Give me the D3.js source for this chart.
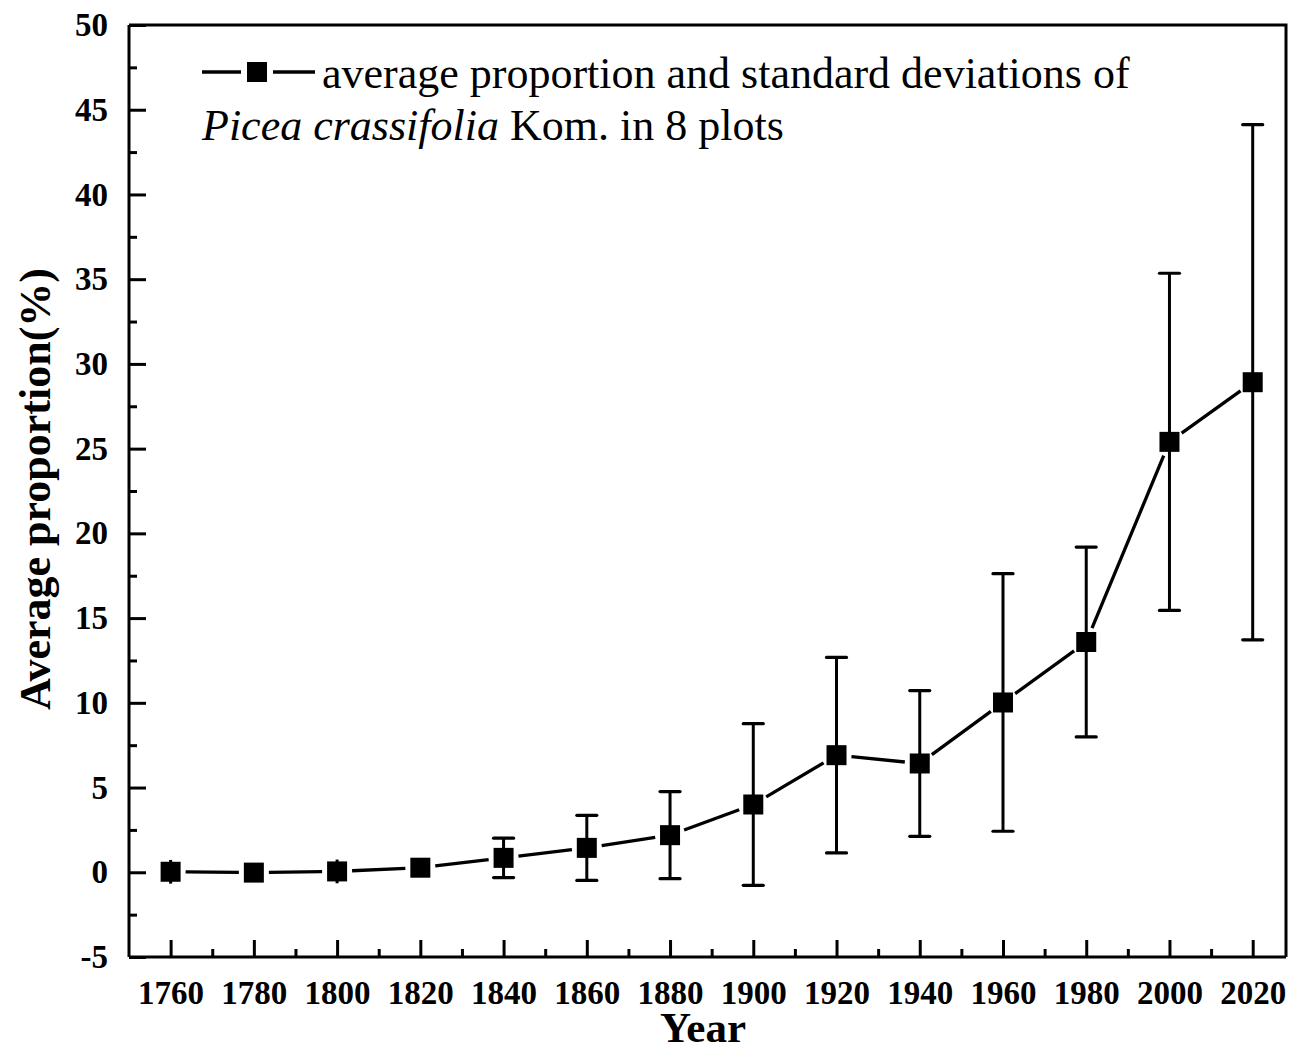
<!DOCTYPE html>
<html>
<head>
<meta charset="utf-8">
<script src="https://cdn.jsdelivr.net/npm/d3@7"></script>
<style>
  html, body { margin: 0; padding: 0; background: #fff; }
  svg { display: block; }
  text { font-family: "Liberation Serif", "Times New Roman", serif; fill: #000; }
</style>
</head>
<body>
<svg id="chart" width="1305" height="1051"></svg>
<script>
// ---- data ----
const years = [1760, 1780, 1800, 1820, 1840, 1860, 1880, 1900, 1920, 1940, 1960, 1980, 2000, 2020];
const means = [0.03, -0.02, 0.05, 0.27, 0.85, 1.44, 2.19, 4.0, 6.91, 6.42, 10.02, 13.59, 25.4, 28.92];
const sds   = [0.7, 0, 0.7, 0, 1.16, 1.92, 2.57, 4.77, 5.77, 4.3, 7.6, 5.6, 9.95, 15.2];
const yTicks = [-5, 0, 5, 10, 15, 20, 25, 30, 35, 40, 45, 50];
const xTicks = [1760, 1780, 1800, 1820, 1840, 1860, 1880, 1900, 1920, 1940, 1960, 1980, 2000, 2020];
const legendLine1 = "average proportion and standard deviations of";
const legendItalic = "Picea crassifolia";
const legendRest = " Kom. in 8 plots";
const xTitle = "Year";
const yTitle = "Average proportion(%)";

// ---- layout ----
const L = 129, R = 1286, T = 25, B = 957;
const FONT = "'Liberation Serif','Times New Roman',serif";
const svg = d3.select("#chart");
const x = d3.scaleLinear().domain([1750, 2028]).range([L, R]);
const y = d3.scaleLinear().domain([-5, 50]).range([B, T]);

// minor ticks
const yMinor = d3.range(-2.5, 50, 5);
const xMinor = d3.range(1770, 2028, 20);

const ax = svg.append("g");
// frame (top and right)
ax.append("path")
  .attr("d", `M${L},${T}H${R}V${B}`)
  .attr("fill", "none").attr("stroke", "#000").attr("stroke-width", 3);

// left axis
const gy = ax.append("g").attr("transform", `translate(${L},0)`)
  .call(d3.axisLeft(y).tickValues(yTicks).tickSize(-17).tickPadding(21).tickFormat(d => String(d)));
const gyMinor = ax.append("g").attr("transform", `translate(${L},0)`)
  .call(d3.axisLeft(y).tickValues(yMinor).tickSize(-8).tickFormat(""));
// bottom axis
const gx = ax.append("g").attr("transform", `translate(0,${B})`)
  .call(d3.axisBottom(x).tickValues(xTicks).tickSize(-17).tickPadding(24).tickFormat(d => String(d)));
const gxMinor = ax.append("g").attr("transform", `translate(0,${B})`)
  .call(d3.axisBottom(x).tickValues(xMinor).tickSize(-8).tickFormat(""));

gyMinor.select(".domain").remove();
gxMinor.select(".domain").remove();
gy.select(".domain").attr("d", `M0,${B}V${T}`);
gx.select(".domain").attr("d", `M${L},0H${R}`);
ax.selectAll(".domain").attr("stroke", "#000").attr("stroke-width", 3);
ax.selectAll(".tick line").attr("stroke", "#000").attr("stroke-width", 3);
gy.selectAll(".tick text").attr("font-size", 33).attr("font-weight", "bold").attr("font-family", FONT);
gx.selectAll(".tick text").attr("font-size", 33).attr("font-weight", "bold").attr("font-family", FONT);

// ---- data marks ----
const pts = years.map((yr, i) => ({ yr, m: means[i], s: sds[i] }));
const plot = svg.append("g");

// error bars
const eb = plot.selectAll("g.eb").data(pts.filter(d => d.s > 0)).join("g").attr("class", "eb");
eb.append("line")
  .attr("x1", d => x(d.yr)).attr("x2", d => x(d.yr))
  .attr("y1", d => y(d.m + d.s)).attr("y2", d => y(d.m - d.s))
  .attr("stroke", "#000").attr("stroke-width", 3);
[1, -1].forEach(sg => {
  eb.filter(d => d.s >= 1).append("line")
    .attr("x1", d => x(d.yr) - 10).attr("x2", d => x(d.yr) + 10)
    .attr("y1", d => y(d.m + sg * d.s)).attr("y2", d => y(d.m + sg * d.s))
    .attr("stroke", "#000").attr("stroke-width", 3.2).attr("stroke-linecap", "round");
});

// connecting segments with gaps around markers
const gap = 15;
const segs = d3.pairs(pts).map(([a, b]) => {
  const x1 = x(a.yr), y1 = y(a.m), x2 = x(b.yr), y2 = y(b.m);
  const len = Math.hypot(x2 - x1, y2 - y1);
  const ux = (x2 - x1) / len, uy = (y2 - y1) / len;
  return { x1: x1 + ux * gap, y1: y1 + uy * gap, x2: x2 - ux * gap, y2: y2 - uy * gap };
});
plot.selectAll("line.seg").data(segs).join("line").attr("class", "seg")
  .attr("x1", d => d.x1).attr("y1", d => d.y1).attr("x2", d => d.x2).attr("y2", d => d.y2)
  .attr("stroke", "#000").attr("stroke-width", 3.3);

// markers
plot.selectAll("rect.mk").data(pts).join("rect").attr("class", "mk")
  .attr("x", d => x(d.yr) - 10).attr("y", d => y(d.m) - 10)
  .attr("width", 20).attr("height", 20).attr("fill", "#000");

// ---- legend ----
const lg = svg.append("g");
lg.append("line").attr("x1", 202).attr("x2", 241).attr("y1", 72).attr("y2", 72).attr("stroke", "#000").attr("stroke-width", 3.3);
lg.append("line").attr("x1", 273).attr("x2", 315).attr("y1", 72).attr("y2", 72).attr("stroke", "#000").attr("stroke-width", 3.3);
lg.append("rect").attr("x", 247).attr("y", 62).attr("width", 20).attr("height", 20).attr("fill", "#000");
lg.append("text").attr("x", 322).attr("y", 88).attr("font-size", 44).text(legendLine1);
const t2 = lg.append("text").attr("x", 202).attr("y", 140).attr("font-size", 44);
t2.append("tspan").attr("font-style", "italic").text(legendItalic);
t2.append("tspan").text(legendRest);

// ---- axis titles ----
svg.append("text").attr("x", 703).attr("y", 1042)
  .attr("text-anchor", "middle").attr("font-size", 43).attr("font-weight", "bold").text(xTitle);
svg.append("text").attr("transform", `translate(50,${(T + B) / 2 - 2}) rotate(-90)`)
  .attr("text-anchor", "middle").attr("font-size", 44).attr("font-weight", "bold").text(yTitle);
</script>
</body>
</html>
